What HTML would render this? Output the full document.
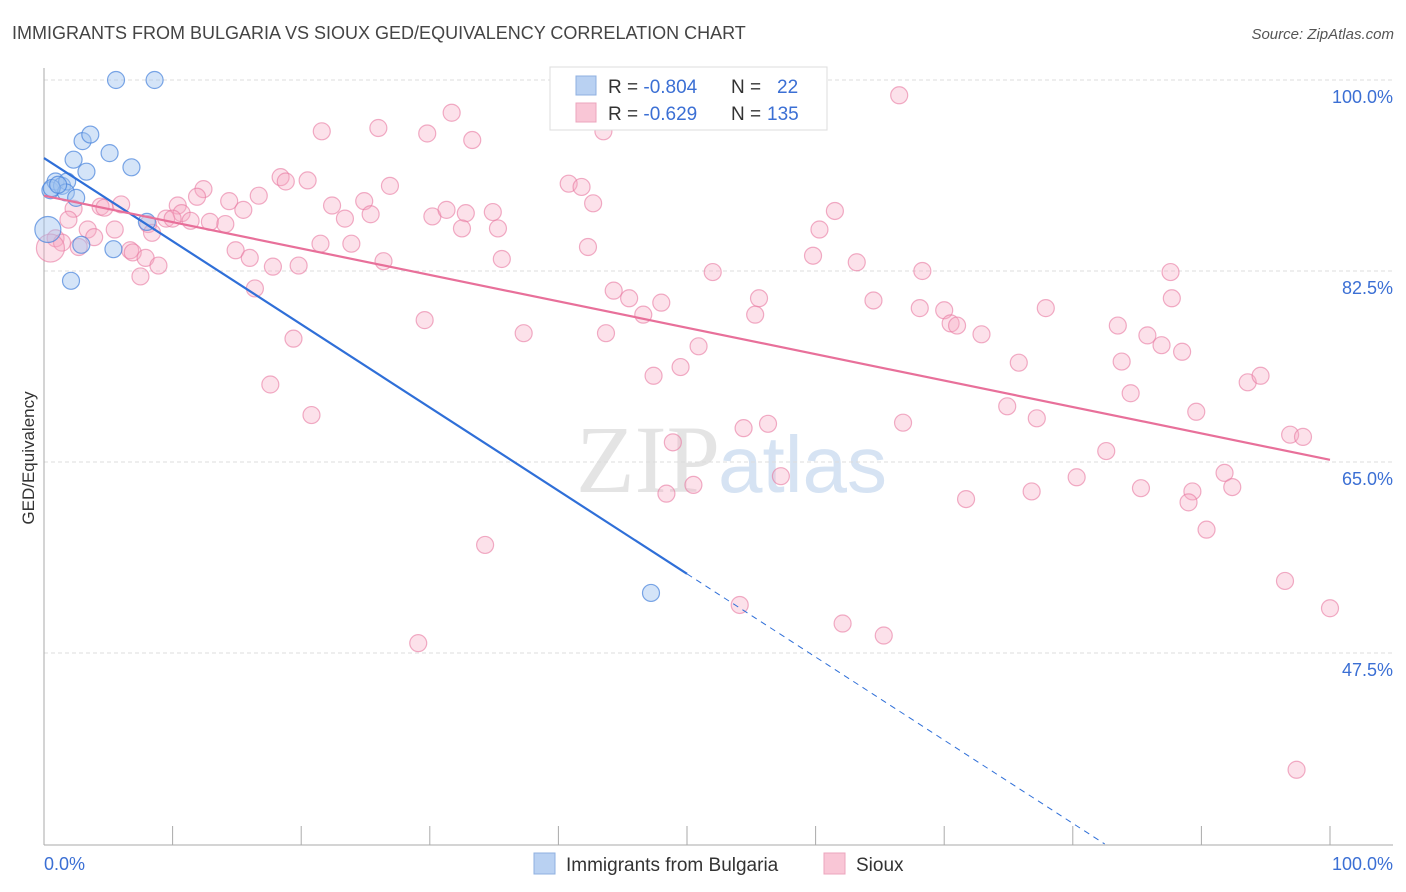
<!DOCTYPE html>
<html><head><meta charset="utf-8"><style>
body{margin:0;background:#fff;font-family:"Liberation Sans",sans-serif}
svg{display:block}
</style></head><body>
<svg id="c" width="1406" height="892" xmlns="http://www.w3.org/2000/svg">
<text x="12" y="39" font-size="18" fill="#444">IMMIGRANTS FROM BULGARIA VS SIOUX GED/EQUIVALENCY CORRELATION CHART</text>
<text x="1394" y="39" font-size="15" fill="#555" font-style="italic" text-anchor="end">Source: ZipAtlas.com</text>
<text x="720" y="492" font-size="96" fill="#e4e4e4" text-anchor="end" font-family="Liberation Serif,serif">ZIP</text>
<text x="718" y="492" font-size="80" fill="#d6e3f3">atlas</text>
<g id="grid"></g>
<g id="axes"></g>
<g id="pts"></g>
<g id="lines"></g>
<text transform="translate(34,458) rotate(-90)" font-size="17" fill="#333" text-anchor="middle">GED/Equivalency</text>
<text x="44" y="870" font-size="18" fill="#3b6fd4">0.0%</text>
<text x="1393" y="870" font-size="18" fill="#3b6fd4" text-anchor="end">100.0%</text>
<g>
<rect x="550" y="67" width="277" height="63" fill="#fff" stroke="#ddd"/>
<rect x="576" y="76" width="20" height="19" fill="#b9d1f2" stroke="#8fb0e0"/>
<rect x="576" y="103" width="20" height="19" fill="#f9c6d6" stroke="#eca5bd"/>
<text x="608" y="93" font-size="19" fill="#333">R = <tspan fill="#3b6fd4">-0.804</tspan><tspan x="731">N =</tspan><tspan x="777" fill="#3b6fd4">22</tspan></text>
<text x="608" y="120" font-size="19" fill="#333">R = <tspan fill="#3b6fd4"> -0.629</tspan><tspan x="731">N =</tspan><tspan x="767" fill="#3b6fd4">135</tspan></text>
</g>
<g>
<rect x="534" y="853" width="21" height="21" fill="#b9d1f2" stroke="#8fb0e0"/>
<text x="566" y="871" font-size="19" fill="#333">Immigrants from Bulgaria</text>
<rect x="824" y="853" width="21" height="21" fill="#f9c6d6" stroke="#eca5bd"/>
<text x="856" y="871" font-size="19" fill="#333">Sioux</text>
</g>
</svg>
<script>
const yTicks=[100,82.5,65,47.5];
const yTickLabels=["100.0%","82.5%","65.0%","47.5%"];
const blueX=[5.6,8.6,3.0,3.6,2.3,5.1,3.3,6.8,0.5,0.9,1.4,1.8,1.7,2.5,0.3,2.9,5.4,8.0,2.1,47.2,0.6,1.1];
const blueY=[100,100,94.4,95.0,92.7,93.3,91.6,92.0,89.9,90.7,90.3,90.7,89.7,89.2,86.3,84.9,84.5,87.0,81.6,53.0,90.1,90.4];
const pinkX=[66.5,31.7,21.6,26.0,29.8,33.3,43.5,18.4,18.8,20.5,26.9,40.8,41.8,12.4,11.9,16.7,14.4,15.5,10.4,10.7,9.5,10.0,11.4,12.9,14.1,8.1,22.4,23.4,24.9,25.4,30.2,31.3,32.8,34.9,32.5,35.3,42.7,61.5,60.3,6.0,4.4,4.7,2.3,1.9,3.4,5.5,3.9,0.9,1.4,0.5,2.7,6.7,6.9,7.9,8.9,7.5,8.4,14.9,16.0,17.8,19.8,21.5,23.9,26.4,35.6,42.3,52.0,59.8,63.2,68.3,87.6,16.4,44.3,45.5,48.0,46.6,55.6,55.3,64.5,68.1,70.0,70.5,71.0,72.9,77.9,83.5,85.8,87.7,86.9,88.5,29.6,37.3,43.7,50.9,19.4,17.6,20.8,47.4,49.5,75.8,83.8,84.5,93.6,94.6,89.6,74.9,77.2,56.3,54.4,66.8,48.9,82.6,96.9,97.9,57.3,50.5,48.4,80.3,91.8,85.3,89.3,89.0,92.4,76.8,71.7,90.4,34.3,96.5,54.1,100,62.1,65.3,29.1,97.4];
const pinkY=[98.6,97.0,95.3,95.6,95.1,94.5,95.3,91.1,90.7,90.8,90.3,90.5,90.2,90.0,89.3,89.4,88.9,88.1,88.5,87.8,87.3,87.3,87.1,87.0,86.8,86.8,88.5,87.3,88.9,87.7,87.5,88.1,87.8,87.9,86.4,86.4,88.7,88.0,86.3,88.6,88.4,88.3,88.2,87.2,86.3,86.3,85.6,85.5,85.1,84.6,84.7,84.4,84.2,83.7,83.0,82.0,86.0,84.4,83.7,82.9,83.0,85.0,85.0,83.4,83.6,84.7,82.4,83.9,83.3,82.5,82.4,80.9,80.7,80.0,79.6,78.5,80.0,78.5,79.8,79.1,78.9,77.7,77.5,76.7,79.1,77.5,76.6,80.0,75.7,75.1,78.0,76.8,76.8,75.6,76.3,72.1,69.3,72.9,73.7,74.1,74.2,71.3,72.3,72.9,69.6,70.1,69.0,68.5,68.1,68.6,66.8,66.0,67.5,67.3,63.7,62.9,62.1,63.6,64.0,62.6,62.3,61.3,62.7,62.3,61.6,58.8,57.4,54.1,51.9,51.6,50.2,49.1,48.4,36.8];
const blueFit=[92.85,-0.762];
const pinkFit=[89.4,-0.242];
const X=v=>44+v*12.86, Y=v=>80+(100-v)*10.914;
const NS="http://www.w3.org/2000/svg";
function mk(tag,attrs,parent){const e=document.createElementNS(NS,tag);for(const k in attrs)e.setAttribute(k,attrs[k]);document.getElementById(parent).appendChild(e);return e;}
yTicks.forEach((t,i)=>{
 const g=mk('line',{x1:44,x2:1393,y1:Y(t),y2:Y(t),stroke:'#ddd','stroke-dasharray':'4,3'},'grid');
 
 
 const tx=mk('text',{x:1393,y:Y(t)+23,'font-size':18,fill:'#3b6fd4','text-anchor':'end'},'grid');
 tx.textContent=yTickLabels[i];
 
 
});
const ya=mk('line',{x1:44,x2:44,y1:68,y2:845,stroke:'#aaa'},'axes');


const xa=mk('line',{x1:44,x2:1393,y1:845,y2:845,stroke:'#aaa'},'axes');


for(let i=1;i<=10;i++){
 const t=mk('line',{x1:X(i*10),x2:X(i*10),y1:826,y2:845,stroke:'#aaa'},'axes');
 
 
}
pinkX.forEach((x,i)=>{
 const c=mk('circle',{cx:X(x),cy:Y(pinkY[i]),r:(i==49?14:8.5),fill:'rgba(246,170,196,0.35)',stroke:'rgba(232,120,160,0.6)','stroke-width':1.2},'pts');
 
 
});
blueX.forEach((x,i)=>{
 const c=mk('circle',{cx:X(x),cy:Y(blueY[i]),r:(i==14?13:8.5),fill:'rgba(160,195,240,0.45)',stroke:'rgba(70,130,220,0.7)','stroke-width':1.2},'pts');
 
 
});
const yb=x=>blueFit[0]+blueFit[1]*x;
const bl=mk('line',{x1:X(0),y1:Y(yb(0)),x2:X(50),y2:Y(yb(50)),stroke:'#2f6fd8','stroke-width':2.2},'lines');


const xEnd=(30-blueFit[0])/blueFit[1];
const bd=mk('line',{x1:X(50),y1:Y(yb(50)),x2:X(xEnd),y2:Y(30),stroke:'#2f6fd8','stroke-width':1,'stroke-dasharray':'6,5'},'lines');


const yp=x=>pinkFit[0]+pinkFit[1]*x;
const pl=mk('line',{x1:X(0),y1:Y(yp(0)),x2:X(100),y2:Y(yp(100)),stroke:'#e8709a','stroke-width':2.2},'lines');


</script>
</body></html>
